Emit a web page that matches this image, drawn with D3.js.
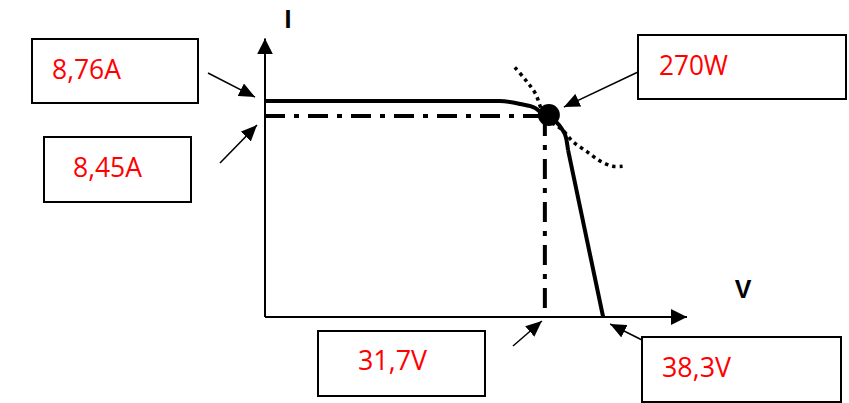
<!DOCTYPE html>
<html>
<head>
<meta charset="utf-8">
<script src="https://cdn.jsdelivr.net/npm/d3@7"></script>
<style>
  body { margin: 0; background: #fff; }
  .box { fill: #fff; stroke: #000; stroke-width: 2; }
  .boxText { fill: #ff0000; font-family: "Open Sans", sans-serif; font-size: 27px; }
  .axisLabel { font-family: "Liberation Sans", Arial, sans-serif; font-weight: bold; font-size: 25px; }
</style>
</head>
<body>
<div id="chart"></div>
<script>
// key values of the panel
var iscA = 8.76;
var impA = 8.45;
var vmpV = 31.7;
var vocV = 38.3;
var pmaxW = 270;

// I-V curve knee (V, A); after the last point it runs straight to Voc
var curveV = [0, 26.6, 28.9, 30.6, 31.7, 32.9, 33.65, 34.1, 34.33];
var curveI = [8.76, 8.76, 8.70, 8.62, 8.45, 8.34, 8.17, 7.98, 7.70];

// dotted constant power line through the MPP
var powerV = [28.3, 29.5, 30.6, 31.7, 33.7, 34.9, 36.5, 38.0, 39.4, 40.5];
var powerI = [9.42, 9.18, 8.92, 8.45, 8.15, 7.89, 7.66, 7.44, 7.32, 7.32];

// axis extents
var vAxisMax = 47.8;
var iAxisMax = 9.95;

// callout labels
var boxLabels = ["8,76A", "8,45A", "270W", "31,7V", "38,3V"];

var svgWidth = 849;
var svgHeight = 403;

var svg = d3.select("#chart")
  .append("svg")
  .attr("width", svgWidth)
  .attr("height", svgHeight);

// scales (current axis is a sketch, squared spacing fits it best)
var xScale = d3.scaleLinear()
  .domain([0, vAxisMax])
  .range([265, 687]);

var yScale = d3.scalePow().exponent(2)
  .domain([0, iAxisMax])
  .range([317, 38.4]);

// markers
var defs = svg.append("defs");
defs.append("marker")
  .attr("id", "axisHead")
  .attr("markerUnits", "userSpaceOnUse")
  .attr("viewBox", "0 0 16 16")
  .attr("refX", 16).attr("refY", 8)
  .attr("markerWidth", 16).attr("markerHeight", 16)
  .attr("orient", "auto")
  .append("path")
  .attr("d", "M0,0L16,8L0,16Z");

defs.append("marker")
  .attr("id", "callHead")
  .attr("markerUnits", "userSpaceOnUse")
  .attr("viewBox", "0 0 16 14")
  .attr("refX", 16).attr("refY", 7)
  .attr("markerWidth", 16).attr("markerHeight", 14)
  .attr("orient", "auto")
  .append("path")
  .attr("d", "M0,0L16,7L0,14Z");

// axes
svg.append("line")
  .attr("x1", xScale(0)).attr("y1", yScale(0))
  .attr("x2", xScale(0)).attr("y2", yScale(iAxisMax))
  .attr("stroke", "#000").attr("stroke-width", 2)
  .attr("marker-end", "url(#axisHead)");

svg.append("line")
  .attr("x1", xScale(0)).attr("y1", yScale(0))
  .attr("x2", xScale(vAxisMax)).attr("y2", yScale(0))
  .attr("stroke", "#000").attr("stroke-width", 2)
  .attr("marker-end", "url(#axisHead)");

svg.append("text")
  .attr("class", "axisLabel")
  .attr("x", 288).attr("y", 28)
  .attr("text-anchor", "middle")
  .text("I");

svg.append("text")
  .attr("class", "axisLabel")
  .attr("x", 743).attr("y", 298)
  .attr("text-anchor", "middle")
  .text("V");

// dash-dot guides to the MPP
svg.append("line")
  .attr("x1", xScale(0)).attr("y1", yScale(impA))
  .attr("x2", xScale(vmpV)).attr("y2", yScale(impA))
  .attr("stroke", "#000").attr("stroke-width", 4)
  .attr("stroke-dasharray", "20,9,5,9");

svg.append("line")
  .attr("x1", xScale(vmpV)).attr("y1", yScale(impA))
  .attr("x2", xScale(vmpV)).attr("y2", yScale(0))
  .attr("stroke", "#000").attr("stroke-width", 4)
  .attr("stroke-dasharray", "20,9,5,9");

// constant power curve
var powerLine = d3.line()
  .x(function(d, i) { return xScale(powerV[i]); })
  .y(function(d, i) { return yScale(powerI[i]); })
  .curve(d3.curveCatmullRom);

svg.append("path")
  .attr("d", powerLine(powerV))
  .attr("fill", "none")
  .attr("stroke", "#000")
  .attr("stroke-width", 3.5)
  .attr("stroke-dasharray", "3.5,4");

// I-V curve: rounded knee, then a straight drop to Voc
var ivLine = d3.line()
  .x(function(d, i) { return xScale(curveV[i]); })
  .y(function(d, i) { return yScale(curveI[i]); })
  .curve(d3.curveMonotoneX);

svg.append("path")
  .attr("d", ivLine(curveV))
  .attr("fill", "none")
  .attr("stroke", "#000")
  .attr("stroke-width", 4);

var last = curveV.length - 1;
svg.append("line")
  .attr("x1", xScale(curveV[last])).attr("y1", yScale(curveI[last]))
  .attr("x2", xScale(vocV)).attr("y2", yScale(0))
  .attr("stroke", "#000")
  .attr("stroke-width", 4);

// MPP dot
svg.append("circle")
  .attr("cx", xScale(vmpV) + 4)
  .attr("cy", yScale(impA) - 1)
  .attr("r", 11)
  .attr("fill", "#000");

// callout boxes
var boxes = [
  {x: 32, y: 39, w: 166, h: 64, tx: 52, ty: 79},
  {x: 44, y: 137, w: 147, h: 65, tx: 73, ty: 177},
  {x: 638, y: 35, w: 208, h: 64, tx: 659, ty: 75},
  {x: 318, y: 331, w: 167, h: 65, tx: 358, ty: 370},
  {x: 642, y: 337, w: 199, h: 65, tx: 662, ty: 377}
];

var boxGroup = svg.selectAll(".callout")
  .data(boxes)
  .enter()
  .append("g")
  .attr("class", "callout");

boxGroup.append("rect")
  .attr("class", "box")
  .attr("x", d => d.x).attr("y", d => d.y)
  .attr("width", d => d.w).attr("height", d => d.h);

boxGroup.append("text")
  .attr("class", "boxText")
  .attr("x", d => d.tx).attr("y", d => d.ty)
  .attr("textLength", 69)
  .attr("lengthAdjust", "spacingAndGlyphs")
  .text((d, i) => boxLabels[i]);

// callout arrows, tips point at the values on the chart
var arrows = [
  [208, 73, xScale(0) - 10, yScale(iscA) - 4],
  [220, 163, xScale(0) - 8, yScale(impA) + 9],
  [638, 72, xScale(vmpV) + 19, yScale(impA) - 9],
  [513, 346, xScale(vmpV) - 3, yScale(0) + 4],
  [642, 340, xScale(vocV) + 7, yScale(0) + 7]
];

svg.selectAll(".arrow")
  .data(arrows)
  .enter()
  .append("line")
  .attr("class", "arrow")
  .attr("x1", d => d[0]).attr("y1", d => d[1])
  .attr("x2", d => d[2]).attr("y2", d => d[3])
  .attr("stroke", "#000")
  .attr("stroke-width", 1.5)
  .attr("marker-end", "url(#callHead)");
</script>
</body>
</html>
